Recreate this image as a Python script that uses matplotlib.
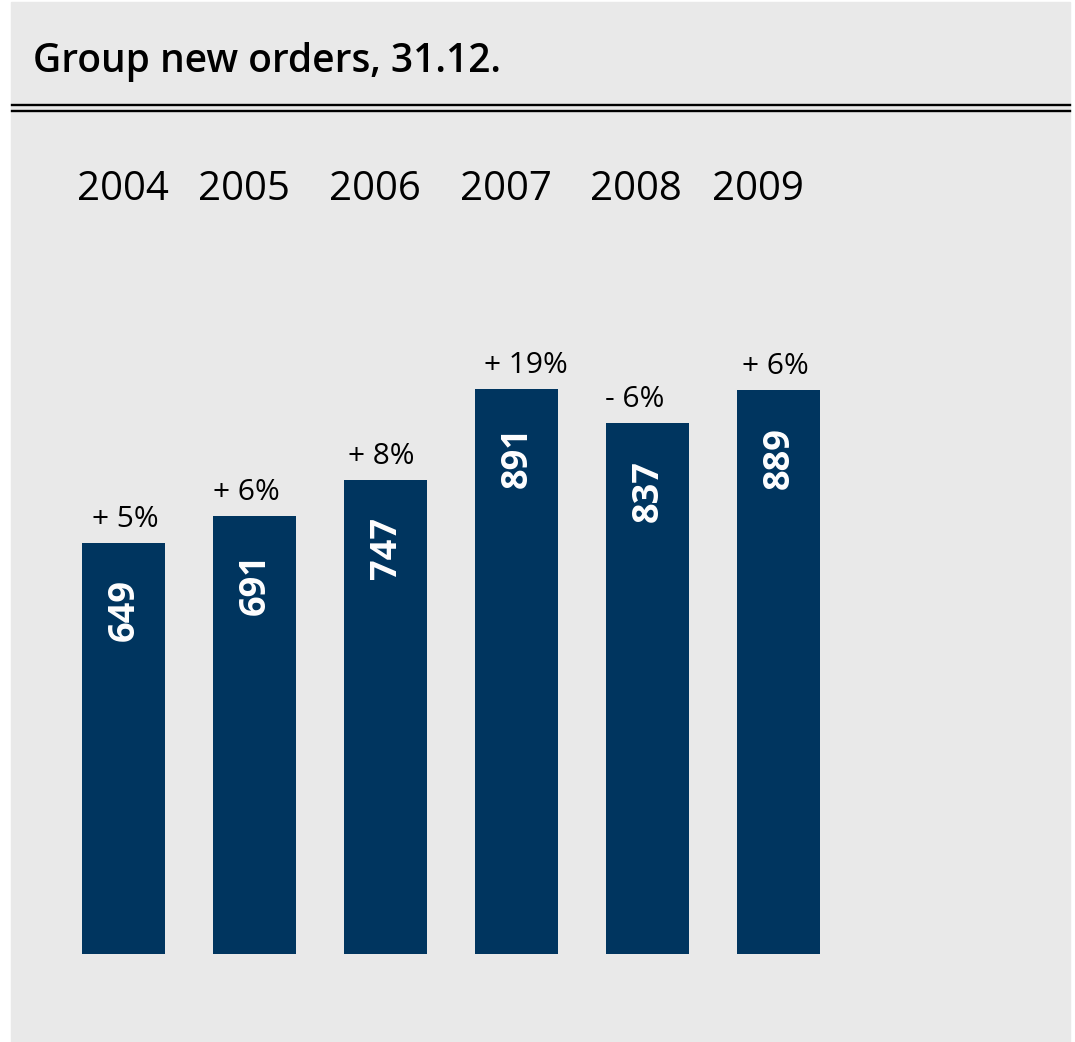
import matplotlib.pyplot as plt
from matplotlib.patches import Rectangle
from matplotlib.lines import Line2D

# Group new orders at year end
years = ["2004", "2005", "2006", "2007", "2008", "2009"]
orders = [649, 691, 747, 891, 837, 889]
changes = ["+ 5%", "+ 6%", "+ 8%", "+ 19%", "- 6%", "+ 6%"]

W, H = 1075, 1042
bar_color = "#00355f"
panel_color = "#e9e9e9"

plt.rcParams["font.family"] = ["Open Sans", "DejaVu Sans"]

fig = plt.figure(figsize=(W / 100, H / 100), dpi=100, facecolor="white")

# grey panel behind everything
fig.add_artist(Rectangle((11 / W, 0), (1070 - 11) / W, (H - 2) / H,
                         transform=fig.transFigure, color=panel_color, zorder=0))

# title and double rule
fig.text(33 / W, 1 - 72 / H, "Group new orders, 31.12.", fontsize=28,
         fontweight="semibold", ha="left", va="baseline")
for y in (104.5, 110.5):
    fig.add_artist(Line2D([12 / W, 1070 / W], [1 - y / H, 1 - y / H],
                          transform=fig.transFigure, color="black", lw=1.7))

# year headings
year_x = [123, 244, 375, 506, 636, 758]
for x, yr in zip(year_x, years):
    fig.text(x / W, 1 - 190 / H, yr, fontsize=29, ha="center", va="center")

# bars: 131 px per slot, bottom at y=954 px, 0.634 px per unit
step = 131
ax = fig.add_axes([(123.5 - 0.65 * step) / W, (H - 954) / H,
                   6.3 * step / W, 634 / H])
ax.set_xlim(-0.65, 5.65)
ax.set_ylim(0, 1000)
ax.axis("off")

pos = range(len(years))
ax.bar(pos, orders, width=0.626, color=bar_color)

# small sideways nudges for the change labels (points)
nudge = [1, -6, -3, 7, -9, -2]
for i, (v, c) in enumerate(zip(orders, changes)):
    ax.annotate(c, (i, v), xytext=(nudge[i], 11.5), textcoords="offset points",
                ha="center", va="baseline", fontsize=21.5, annotation_clip=False)
    ax.annotate(str(v), (i, v), xytext=(1, -26.5), textcoords="offset points",
                rotation=90, rotation_mode="anchor", ha="right", va="center",
                fontsize=26, fontweight="bold", color="white")

fig.savefig("out.png", dpi=100, facecolor="white")
